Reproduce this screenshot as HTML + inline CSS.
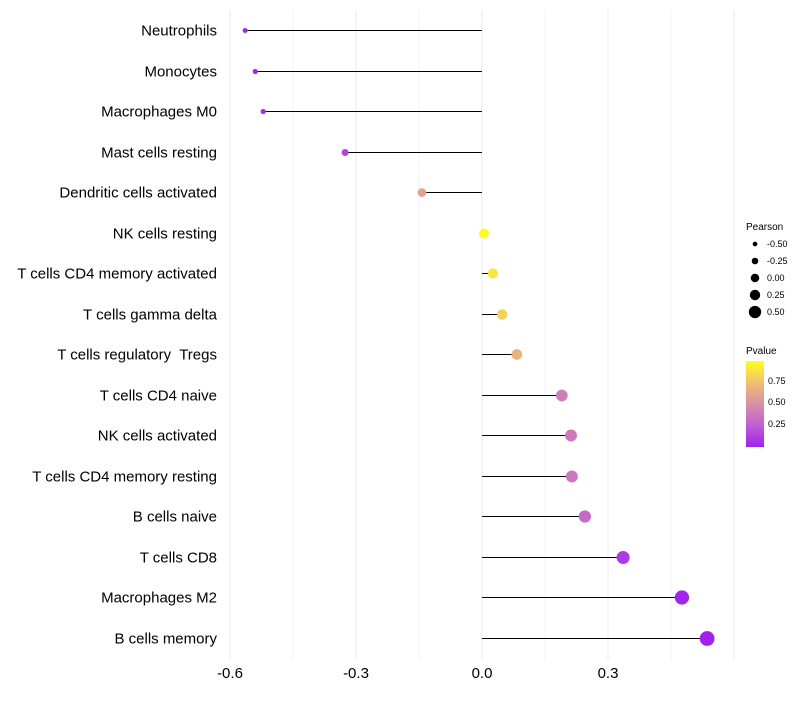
<!DOCTYPE html>
<html><head><meta charset="utf-8"><style>
body{margin:0;background:#fff;font-family:"Liberation Sans",sans-serif}
text{white-space:pre}
</style></head><body>
<svg id="chart" width="800" height="700" xmlns="http://www.w3.org/2000/svg">
<defs><linearGradient id="pg" x1="0" y1="1" x2="0" y2="0">
<stop offset="0" stop-color="#a020f0"/><stop offset="0.25" stop-color="#c060d0"/><stop offset="0.5" stop-color="#d890a8"/><stop offset="0.75" stop-color="#f0c070"/><stop offset="1" stop-color="#ffff20"/></linearGradient></defs>
<g id="grid"></g><g id="marks"></g><g id="labels"></g>
<g font-size="9">
<text x="746" y="230" font-size="10">Pearson</text>
<g id="sizeleg"></g></g>
<g font-size="9">
<text x="746" y="354" font-size="10">Pvalue</text>
<rect x="746" y="361" width="18" height="86" fill="url(#pg)"/>
<text x="768" y="384">0.75</text><text x="768" y="405">0.50</text><text x="768" y="427">0.25</text>
</g>
</svg>
<script>
const cells=["Neutrophils","Monocytes","Macrophages M0","Mast cells resting","Dendritic cells activated","NK cells resting","T cells CD4 memory activated","T cells gamma delta","T cells regulatory  Tregs","T cells CD4 naive","NK cells activated","T cells CD4 memory resting","B cells naive","T cells CD8","Macrophages M2","B cells memory"];
const pearson=[-0.564,-0.540,-0.521,-0.326,-0.143,0.005,0.026,0.048,0.083,0.190,0.212,0.214,0.245,0.336,0.476,0.536];
const pvalue=[0.02,0.03,0.05,0.15,0.6,0.98,0.9,0.82,0.68,0.4,0.38,0.38,0.3,0.1,0.02,0.005];
const xTicks=[-0.6,-0.3,0.0,0.3];
const xTickLabels=["-0.6","-0.3","0.0","0.3"];
const sizeLegendVals=[-0.5,-0.25,0,0.25,0.5];
const NS="http://www.w3.org/2000/svg";
const X=v=>482+v*420, Y=i=>30+i*40.5, R=v=>Math.max(1.8,5+4.5*v);
function col(p){const st=[[0,[160,32,240]],[0.25,[192,96,208]],[0.5,[216,144,168]],[0.75,[240,192,112]],[1,[255,255,32]]];
for(let k=0;k<4;k++){const a=st[k],b=st[k+1];if(p<=b[0]){const t=(p-a[0])/(b[0]-a[0]);return "rgb("+a[1].map((c,j)=>Math.round(c+(b[1][j]-c)*t)).join(",")+")";}}return "rgb(255,255,32)";}
function mk(t,a,p){const e=document.createElementNS(NS,t);for(const k in a)e.setAttribute(k,a[k]);p.appendChild(e);return e;}
const g=document.getElementById('grid'),m=document.getElementById('marks'),l=document.getElementById('labels');
for(let v=-0.6;v<=0.61;v+=0.15){const ln=mk('line',{x1:X(v),x2:X(v),y1:10,y2:660,stroke:'#ebebeb','stroke-width':Math.abs(Math.round(v/0.15))%2?0.6:1},g);

}
xTicks.forEach((v,i)=>{const t=mk('text',{x:X(v),y:678,'text-anchor':'middle','font-size':15},l);t.textContent=xTickLabels[i];

});
cells.forEach((c,i)=>{const yy=Math.round(Y(i))+0.5;const t=mk('text',{x:217,y:yy+5,'text-anchor':'end','font-size':15},l);t.textContent=c;


const ln=mk('line',{x1:X(0),x2:X(pearson[i]),y1:yy,y2:yy,stroke:'#000','stroke-width':1},m);


const ci=mk('circle',{cx:X(pearson[i]),cy:yy,r:R(pearson[i]),fill:col(pvalue[i])},m);

});
const sl=document.getElementById('sizeleg');
sizeLegendVals.forEach((v,i)=>{const y=244+i*17;const c=mk('circle',{cx:755,cy:y,r:R(v)*0.85,fill:'#000'},sl);


const t=mk('text',{x:767,y:y+3},sl);t.textContent=v.toFixed(2);

});
</script>
</body></html>
